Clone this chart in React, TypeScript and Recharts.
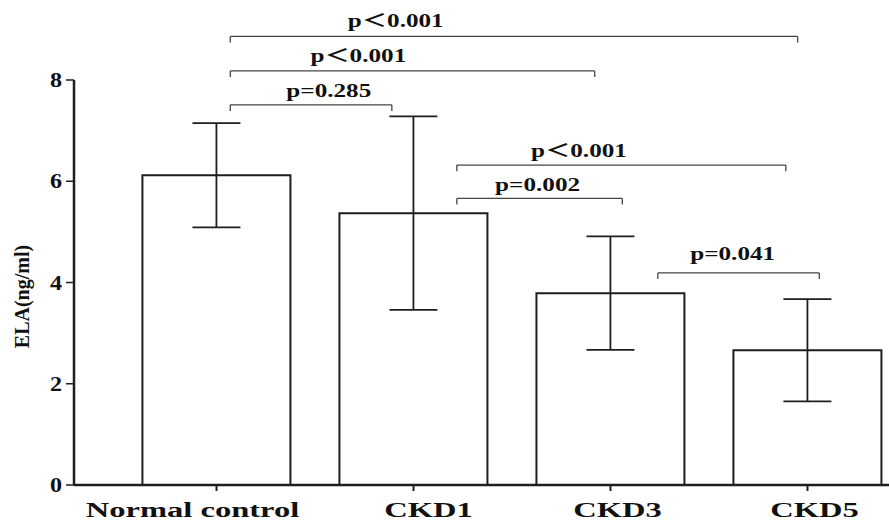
import { BarChart, Bar, XAxis, YAxis, ErrorBar, ReferenceLine, ReferenceDot } from "recharts"

const groups = ["Normal control", "CKD1", "CKD3", "CKD5"]
const means = [6.12, 5.37, 3.79, 2.66]
const sds = [1.03, 1.91, 1.12, 1.01]
const yTicks = [0, 2, 4, 6, 8]

// pairwise comparisons above the bars (x in category-index units)
const pTexts = ["p＜0.001", "p＜0.001", "p=0.285", "p＜0.001", "p=0.002", "p=0.041"]
const pFrom = [0.07, 0.07, 0.07, 1.22, 1.22, 2.24]
const pTo = [2.95, 1.92, 0.89, 2.89, 2.06, 3.06]
const pLevel = [8.86, 8.18, 7.51, 6.32, 5.66, 4.19]
const pTextX = [0.91, 0.72, 0.57, 1.84, 1.63, 2.62]
const pTextY = [9.05, 8.36, 7.66, 6.48, 5.81, 4.45]

const data = groups.map((name, i) => ({ name, idx: i, mean: means[i], sd: sds[i] }))

const FONT = '"Liberation Serif", "Times New Roman", "Noto Sans CJK SC", serif'
const INK = "#1e1e1e"
const LABEL_SHIFT: Record<string, number> = { "Normal control": -24, CKD1: 15, CKD3: 7, CKD5: 7 }

const XTick = ({ x, y, payload }: any) => (
    <text
        transform={`translate(${x + (LABEL_SHIFT[payload.value] || 0)},${y + 24}) scale(1.55,1)`}
        textAnchor="middle"
        fontFamily={FONT}
        fontWeight="bold"
        fontSize={21}
        fill="#111"
    >
        {payload.value}
    </text>
)

const YTick = ({ x, y, payload }: any) => (
    <text
        transform={`translate(${x - 2},${y + 7}) scale(1.15,1)`}
        textAnchor="end"
        fontFamily={FONT}
        fontWeight="bold"
        fontSize={21}
        fill="#111"
    >
        {payload.value}
    </text>
)

const renderYLabel = ({ viewBox }: any) => (
    <text
        transform={`translate(${viewBox.x + 29},${viewBox.y + viewBox.height / 2 + 14}) rotate(-90)`}
        textAnchor="middle"
        fontFamily={FONT}
        fontWeight="bold"
        fontSize={20}
        fill="#111"
    >
        ELA(ng/ml)
    </text>
)

export default function App() {
    const brackets = pTexts.flatMap((t, i) => [
        <ReferenceLine
            key={`h${i}`}
            xAxisId="num"
            segment={[{ x: pFrom[i], y: pLevel[i] }, { x: pTo[i], y: pLevel[i] }]}
            stroke="#444"
            strokeWidth={1.3}
            ifOverflow="visible"
        />,
        <ReferenceLine
            key={`l${i}`}
            xAxisId="num"
            segment={[{ x: pFrom[i], y: pLevel[i] }, { x: pFrom[i], y: pLevel[i] - 0.12 }]}
            stroke="#444"
            strokeWidth={1.3}
            ifOverflow="visible"
        />,
        <ReferenceLine
            key={`r${i}`}
            xAxisId="num"
            segment={[{ x: pTo[i], y: pLevel[i] }, { x: pTo[i], y: pLevel[i] - 0.12 }]}
            stroke="#444"
            strokeWidth={1.3}
            ifOverflow="visible"
        />,
        <ReferenceDot
            key={`t${i}`}
            xAxisId="num"
            x={pTextX[i]}
            y={pTextY[i]}
            r={0}
            ifOverflow="visible"
            shape={(p: any) => (
                <text
                    transform={`translate(${p.cx},${p.cy}) scale(1.4,1)`}
                    textAnchor="middle"
                    fontFamily={FONT}
                    fontWeight="bold"
                    fontSize={18}
                    fill="#111"
                >
                    {t}
                </text>
            )}
        />,
    ])

    return (
        <div style={{ position: "absolute", left: 0, top: 0, width: 889, height: 522, overflow: "hidden", background: "#fff" }}>
            <BarChart
                width={920}
                height={522}
                data={data}
                margin={{ top: 80, right: 14, left: 0, bottom: 0 }}
                barCategoryGap="12.4%"
            >
                <XAxis
                    dataKey="name"
                    height={37}
                    padding={{ left: 44, right: 0 }}
                    tick={<XTick />}
                    tickSize={6}
                    axisLine={{ stroke: INK, strokeWidth: 2.5 }}
                    tickLine={{ stroke: INK, strokeWidth: 2 }}
                    interval={0}
                />
                <XAxis
                    xAxisId="num"
                    dataKey="idx"
                    type="number"
                    domain={[-0.5, 3.5]}
                    allowDataOverflow
                    padding={{ left: 44, right: 0 }}
                    hide
                />
                <YAxis
                    width={74}
                    domain={[0, 8]}
                    ticks={yTicks}
                    allowDataOverflow
                    tick={<YTick />}
                    tickSize={8}
                    tickMargin={2}
                    axisLine={{ stroke: INK, strokeWidth: 2.5 }}
                    tickLine={{ stroke: INK, strokeWidth: 1.5 }}
                    label={renderYLabel}
                />
                <Bar dataKey="mean" fill="#fff" stroke={INK} strokeWidth={2} isAnimationActive={false}>
                    <ErrorBar dataKey="sd" direction="y" width={24} stroke={INK} strokeWidth={1.8} />
                </Bar>
                {brackets}
            </BarChart>
        </div>
    )
}
